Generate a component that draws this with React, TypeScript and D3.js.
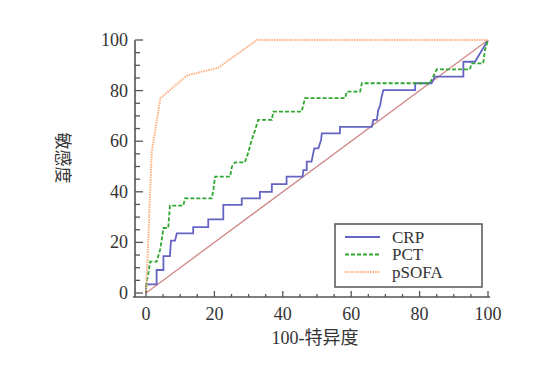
import React from "react";
import * as d3 from "d3";

const crpX = [0, 0, 3.1, 3.1, 5.1, 5.1, 7, 7.3, 8.5, 9, 13.8, 13.8, 18.2, 18.2, 22.6, 22.6, 28, 28, 33.3, 33.3, 36.8, 36.8, 41.1, 41.1, 45.8, 46, 47, 47, 48.4, 49.2, 50.4, 51.2, 51.4, 56.7, 56.7, 66, 66.5, 67.5, 67.9, 68.5, 68.8, 69.4, 78.7, 78.7, 83.5, 84.5, 92.8, 92.8, 96.2, 100];
const crpY = [0, 3.4, 3.4, 9.1, 9.1, 14.6, 14.6, 20.7, 20.7, 23.6, 23.6, 26, 26, 29.1, 29.1, 34.8, 34.8, 37.4, 37.4, 40, 40, 43, 43, 46, 46, 48.6, 48.6, 51.9, 51.9, 57.2, 57.2, 60.5, 63.1, 63.1, 65.7, 65.7, 68.4, 68.4, 72.3, 74.3, 77, 80.2, 80.2, 82.9, 82.9, 85.5, 85.5, 91.4, 91.4, 100];

const pctX = [0, 0.2, 0.7, 1.2, 3.1, 4.1, 4.6, 5.1, 6.5, 6.8, 7, 10.9, 11.4, 19.2, 19.7, 20.2, 24.6, 25.1, 26, 28.9, 29.9, 30.9, 31.9, 32.8, 36.8, 37.2, 45.5, 46.5, 58.2, 58.7, 62.6, 63.1, 83, 83.5, 85, 94.7, 95.2, 98.6, 99.1, 100];
const pctY = [0, 4.5, 7.8, 12.4, 12.4, 17, 21, 25.7, 25.7, 31, 34.5, 34.5, 37.4, 37.4, 40.7, 46, 46, 49.9, 51.6, 51.6, 55.5, 60.5, 64.4, 68.4, 68.4, 71.7, 71.7, 77, 77, 79.6, 79.6, 82.9, 82.9, 84.2, 88.4, 88.4, 90.8, 90.8, 96, 100];

const psofaX = [0, 0.8, 1.2, 1.7, 2.2, 4.2, 12, 21, 32.5, 100];
const psofaY = [0, 25, 40, 56, 60, 77, 86, 89, 100, 100];

const xTicks = [0, 20, 40, 60, 80, 100];
const yTicks = [0, 20, 40, 60, 80, 100];
const seriesNames = ["CRP", "PCT", "pSOFA"];
const xLabel = "100-特异度";
const yLabel = "敏感度";

const W = 554;
const H = 367;
const FONT = "'Liberation Serif', 'Noto Sans CJK SC', serif";

export default function App() {
  const x = d3.scaleLinear().domain([0, 100]).range([146, 488]);
  const y = d3.scaleLinear().domain([0, 100]).range([293, 40]);
  const line = d3
    .line<[number, number]>()
    .x((d) => x(d[0]))
    .y((d) => y(d[1]));
  const zip = (a: number[], b: number[]) => a.map((v, i) => [v, b[i]] as [number, number]);

  const axisY = 297;
  const axisX = 135;
  const minorX = d3.range(0, 101, 5);
  const minorY = d3.range(0, 101, 5);

  const styles = [
    { stroke: "#6464c4", dash: undefined, width: 1.8 },
    { stroke: "#30a830", dash: "4,2", width: 1.8 },
    { stroke: "#ffb080", dash: "1.5,1", width: 2 },
  ];
  const datas = [zip(crpX, crpY), zip(pctX, pctY), zip(psofaX, psofaY)];

  return (
    <svg width={W} height={H} style={{ position: "absolute", left: 0, top: 0, background: "#fff" }}>
      <rect x={0} y={0} width={W} height={H} fill="#fff" />
      <line x1={x(0)} y1={y(0)} x2={x(100)} y2={y(100)} stroke="#d08888" strokeWidth={1.3} />
      {datas.map((d, i) => (
        <path
          key={i}
          d={line(d) || ""}
          fill="none"
          stroke={styles[i].stroke}
          strokeWidth={styles[i].width}
          strokeDasharray={styles[i].dash}
        />
      ))}
      <line x1={axisX} y1={40} x2={axisX} y2={axisY} stroke="#555" strokeWidth={1.6} />
      <line x1={133} y1={axisY} x2={490} y2={axisY} stroke="#555" strokeWidth={1.6} />
      {minorY.map((v) => (
        <line key={"yt" + v} x1={axisX} x2={axisX + (v % 20 === 0 ? 8 : 5)} y1={y(v)} y2={y(v)} stroke="#555" strokeWidth={1.3} />
      ))}
      {minorX.map((v) => (
        <line key={"xt" + v} x1={x(v)} x2={x(v)} y1={axisY} y2={axisY - (v % 20 === 0 ? 6 : 3)} stroke="#555" strokeWidth={1.3} />
      ))}
      {yTicks.map((v) => (
        <text key={"yl" + v} x={128} y={y(v) + 6} textAnchor="end" fontFamily={FONT} fontSize={18} fill="#333">
          {v}
        </text>
      ))}
      {xTicks.map((v) => (
        <text key={"xl" + v} x={x(v)} y={320} textAnchor="middle" fontFamily={FONT} fontSize={18} fill="#333">
          {v}
        </text>
      ))}
      <text x={315} y={344} textAnchor="middle" fontFamily={FONT} fontSize={18} fill="#333">
        {xLabel}
      </text>
      <text
        transform={`translate(62,158) rotate(90)`}
        textAnchor="middle"
        dominantBaseline="central"
        fontFamily={FONT}
        fontSize={17}
        fill="#333"
      >
        {yLabel}
      </text>
      <rect x={335} y={224} width={147} height={63} fill="#fff" stroke="#555" strokeWidth={1.5} />
      {seriesNames.map((n, i) => {
        const ly = 237 + i * 17.5;
        return (
          <g key={n}>
            <line x1={345} x2={380} y1={ly} y2={ly} stroke={styles[i].stroke} strokeWidth={styles[i].width} strokeDasharray={styles[i].dash} />
            <text x={392} y={ly + 5.5} fontFamily={FONT} fontSize={17} fill="#333">
              {n}
            </text>
          </g>
        );
      })}
    </svg>
  );
}
